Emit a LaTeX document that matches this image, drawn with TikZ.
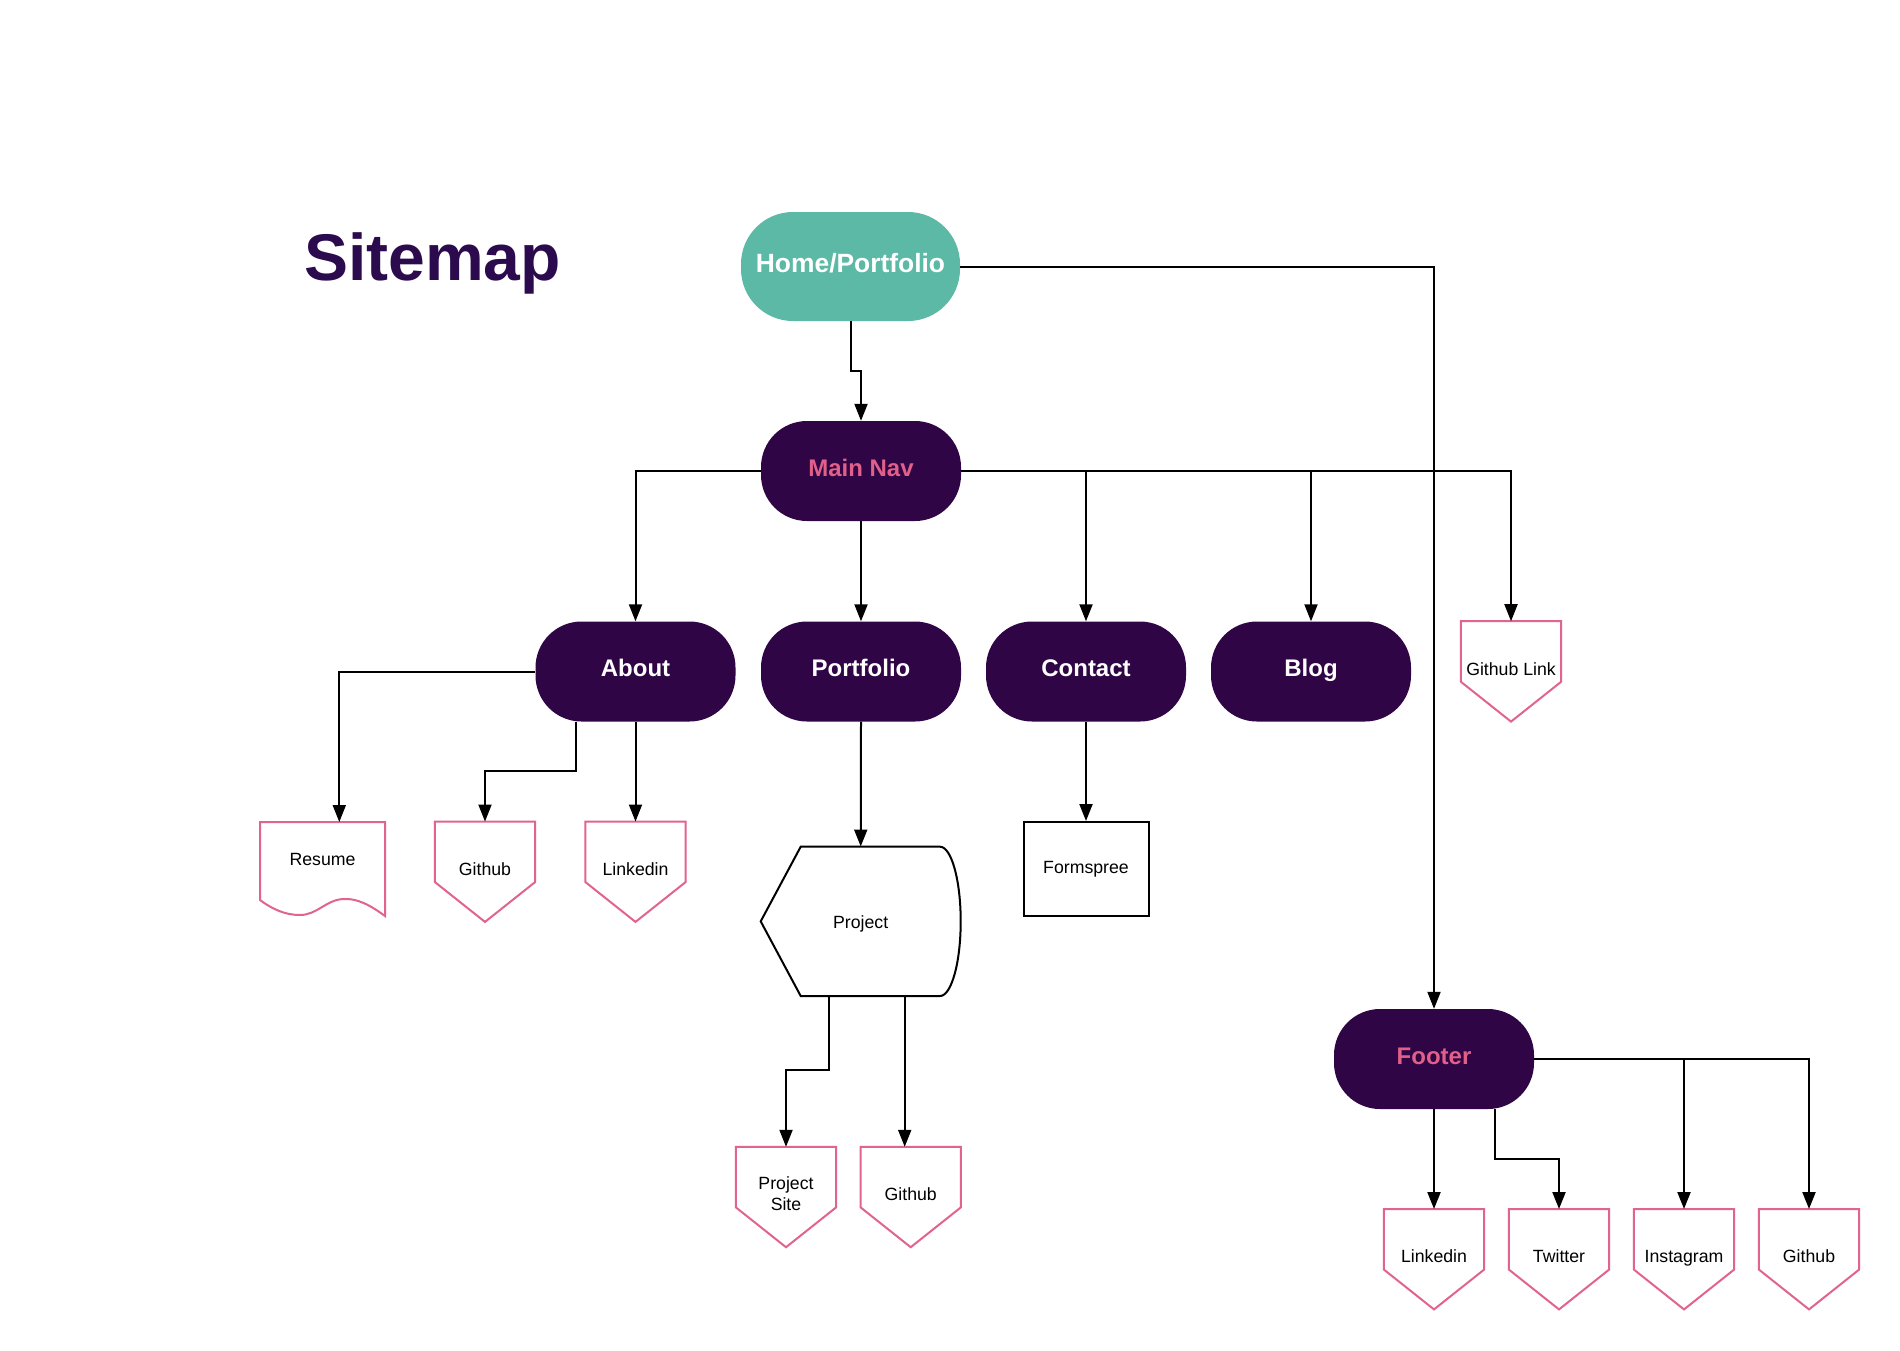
\documentclass[tikz,border=0pt]{standalone}
\usepackage{fontspec}
\setmainfont{Liberation Sans}
\usetikzlibrary{arrows.meta,calc}
\definecolor{tealc}{HTML}{5BB9A6}
\definecolor{purp}{HTML}{300545}
\definecolor{titlec}{HTML}{2B0A4D}
\definecolor{pinkt}{HTML}{E0608A}
\definecolor{pinko}{HTML}{E0648C}
\begin{document}
\begin{tikzpicture}[x=1pt,y=-1pt,
  term/.style={rectangle, rounded corners=46pt, minimum width=200pt, minimum height=100pt, inner sep=0pt, fill=purp, text=white, font=\fontsize{24}{28}\selectfont\bfseries, text height=17pt, text depth=7pt},
  smalltxt/.style={font=\fontsize{17.7}{20.7}\selectfont},
  pent/.style={rectangle, minimum width=100pt, minimum height=100pt, inner sep=0pt, smalltxt, align=center, text height=13pt, text depth=5.7pt},
  conn/.style={draw=black, line width=2pt, -{Triangle[length=17pt,width=13pt]}},
  pline/.style={draw=pinko, line width=2pt, line join=miter},
  bline/.style={draw=black, line width=2pt}]
\useasboundingbox (0,0) rectangle (1900,1350);
\fill[white] (0,0) rectangle (1900,1350);

% title
\node[anchor=base west, inner sep=0pt, text=titlec, font=\fontsize{66}{70}\selectfont\bfseries] (title) at (304,280) {Sitemap};

% terminators
\node[term, fill=tealc, minimum width=219pt, minimum height=109pt, rounded corners=52pt, font=\fontsize{26.4}{30}\selectfont\bfseries, text height=19pt, text depth=6.5pt] (home) at (850.5,266.5) {Home/Portfolio};
\node[term, text=pinkt] (mainnav) at (861,471) {Main Nav};
\node[term] (about) at (635.5,671.5) {About};
\node[term] (portfolio) at (861,671.5) {Portfolio};
\node[term] (contact) at (1086,671.5) {Contact};
\node[term] (blog) at (1311,671.5) {Blog};
\node[term, text=pinkt] (footer) at (1434,1059) {Footer};

% pentagon (off-page) nodes
\node[pent] (ghlink) at (1511,671.4) {Github Link};
\node[pent] (gh1) at (485,871.7) {Github};
\node[pent] (li1) at (635.5,871.7) {Linkedin};
\node[pent] (psite) at (786,1197) {};
\node[smalltxt, align=center, inner sep=0pt] (psitetxt) at (786,1193.7) {Project\\Site};
\node[pent] (gh2) at (910.7,1197) {Github};
\node[pent] (li2) at (1434,1259.2) {Linkedin};
\node[pent] (tw) at (1559,1259.2) {Twitter};
\node[pent] (ig) at (1684,1259.2) {Instagram};
\node[pent] (gh3) at (1809,1259.2) {Github};
\foreach \n in {ghlink,gh1,li1,psite,gh2,li2,tw,ig,gh3}
  \draw[pline] (\n.north west) -- (\n.north east) -- ($(\n.north east)+(0,60.5)$) -- (\n.south) -- ($(\n.north west)+(0,60.5)$) -- cycle;

% resume (document shape)
\node[pent, minimum width=125pt, minimum height=20pt, text height=12.7pt, text depth=0pt] (resume) at (322.5,859) {Resume};
\draw[pline] (260,822) -- (385,822) -- (385,916)
  .. controls (370,905) and (357,898) .. (343,899)
  .. controls (326,900) and (317,915) .. (300,915)
  .. controls (285,915) and (272,909) .. (260,900) -- cycle;

% formspree
\node[bline, rectangle, minimum width=125pt, minimum height=94pt, inner sep=0pt, smalltxt] (formspree) at (1086,869) {Formspree};

% project (display shape)
\node[rectangle, minimum width=200pt, minimum height=149.3pt, inner sep=0pt, smalltxt, text height=13.4pt, text depth=0pt] (project) at (860.7,921.35) {Project};
\draw[bline, line join=miter] (800.7,846.7) -- (940,846.7)
  .. controls (951.4,846.7) and (960.7,880.2) .. (960.7,921.35)
  .. controls (960.7,962.5) and (951.4,996) .. (940,996)
  -- (800.7,996) -- (760.7,921.35) -- cycle;

% connectors
\draw[conn] (home.south) -- ++(0,50) -| (mainnav.north);
\draw[conn] (home.east) -| (footer.north);
\draw[conn] (mainnav.west) -| (about.north);
\draw[conn] (mainnav.south) -- (portfolio.north);
\draw[conn] (mainnav.east) -| (contact.north);
\draw[conn] (mainnav.east) -| (blog.north);
\draw[conn] (mainnav.east) -| (ghlink.north);

\coordinate (resumetop) at (339.3,822);
\draw[conn] (about.west) -| (resumetop);
\coordinate (ab1) at ($(about.south)+(-59.5,0)$);
\draw[conn] (ab1) -- ++(0,49) -| (gh1.north);
\draw[conn] (about.south) -- (li1.north);

\draw[conn] (portfolio.south) -- (project.north);
\draw[conn] (contact.south) -- (formspree.north);

\coordinate (pb1) at ($(project.south)+(-31.4,0)$);
\coordinate (pb2) at ($(project.south)+(44,0)$);
\draw[conn] (pb1) -- ++(0,73.6) -| (psite.north);
\draw[conn] (pb2) -- (pb2 |- gh2.north);

\draw[conn] (footer.south) -- (li2.north);
\coordinate (fb1) at ($(footer.south)+(61,0)$);
\draw[conn] (fb1) -- ++(0,50) -| (tw.north);
\draw[conn] (footer.east) -| (ig.north);
\draw[conn] (footer.east) -| (gh3.north);
\end{tikzpicture}
\end{document}
